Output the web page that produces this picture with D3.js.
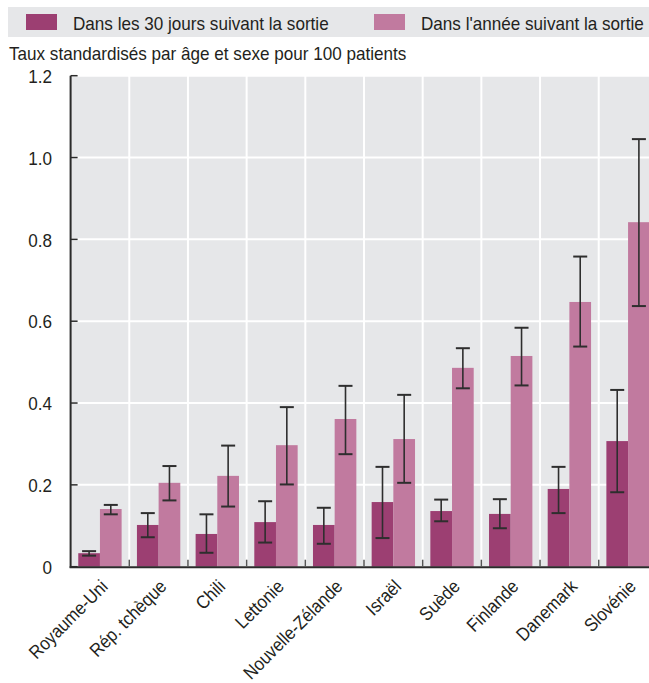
<!DOCTYPE html>
<html>
<head>
<meta charset="utf-8">
<script src="https://cdn.jsdelivr.net/npm/d3@7/dist/d3.min.js"></script>
<style>
  html, body { margin: 0; padding: 0; background: #fff; }
  svg { display: block; }
  text { font-family: "Liberation Sans", Arial, sans-serif; fill: #231f20; }
</style>
</head>
<body>
<svg id="chart" width="649" height="683"></svg>
<script>
// Readmission rates per 100 patients, age- and sex-standardised
const countries = ["Royaume-Uni", "Rép. tchèque", "Chili", "Lettonie", "Nouvelle-Zélande",
                   "Israël", "Suède", "Finlande", "Danemark", "Slovénie"];
const seriesNames = ["Dans les 30 jours suivant la sortie", "Dans l'année suivant la sortie"];

const within30 = [0.033, 0.102, 0.080, 0.109, 0.102, 0.158, 0.136, 0.129, 0.190, 0.307];
const within30Low = [0.027, 0.072, 0.034, 0.059, 0.056, 0.070, 0.111, 0.094, 0.131, 0.182];
const within30High = [0.038, 0.131, 0.128, 0.160, 0.144, 0.244, 0.164, 0.165, 0.244, 0.432];

const withinYear = [0.141, 0.205, 0.222, 0.297, 0.361, 0.312, 0.486, 0.515, 0.647, 0.842];
const withinYearLow = [0.128, 0.162, 0.147, 0.201, 0.275, 0.205, 0.436, 0.443, 0.538, 0.637];
const withinYearHigh = [0.151, 0.246, 0.296, 0.390, 0.442, 0.420, 0.534, 0.584, 0.758, 1.045];

const yTicks = [0, 0.2, 0.4, 0.6, 0.8, 1.0, 1.2];
const yTickLabels = ["0", "0.2", "0.4", "0.6", "0.8", "1.0", "1.2"];
const subtitle = "Taux standardisés par âge et sexe pour 100 patients";

const colors = ["#9c3f72", "#c17a9f"];
const panelBg = "#e6e7e9";
const axisColor = "#2b2b2b";
const narrow = 0.92;   // horizontal squeeze for a condensed look
const fs = 18.6;

const W = 649, H = 683;
const plot = { left: 70.6, right: 657.4, top: 75.7, bottom: 566.7 };

const svg = d3.select("#chart");

const x = d3.scaleBand().domain(countries).range([plot.left, plot.right]).paddingInner(0).paddingOuter(0);
const inner = d3.scaleBand().domain([0, 1]).range([0, x.bandwidth()]).paddingOuter(0.3532).paddingInner(0);
const y = d3.scaleLinear().domain([0, 1.2]).range([plot.bottom, plot.top]);

function label(parent, px, py, str, anchor) {
  return parent.append("text")
    .attr("transform", `translate(${px},${py}) scale(${narrow},1)`)
    .attr("text-anchor", anchor || "start")
    .attr("font-size", fs)
    .text(str);
}

// legend band
const legend = svg.append("g");
legend.append("rect").attr("x", 8).attr("y", 7).attr("width", W - 8).attr("height", 30).attr("fill", panelBg);
const legendX = [26, 374];
seriesNames.forEach((name, i) => {
  legend.append("rect").attr("x", legendX[i]).attr("y", 14).attr("width", 31).attr("height", 16).attr("fill", colors[i]);
  label(legend, legendX[i] + 47, 29.5, name);
});

label(svg, 9, 60, subtitle);

// plot background
svg.append("rect").attr("x", plot.left).attr("y", plot.top)
  .attr("width", W - plot.left).attr("height", plot.bottom - plot.top).attr("fill", panelBg);

// gridlines
svg.append("g").selectAll("line").data(yTicks.slice(1)).join("line")
  .attr("x1", plot.left).attr("x2", W).attr("y1", d => y(d)).attr("y2", d => y(d))
  .attr("stroke", "#fff").attr("stroke-width", 2);
const bounds = countries.slice(1).map(c => x(c));
svg.append("g").selectAll("line").data(bounds).join("line")
  .attr("x1", d => d).attr("x2", d => d).attr("y1", plot.top).attr("y2", plot.bottom)
  .attr("stroke", "#fff").attr("stroke-width", 2);

// bars
const series = [
  { vals: within30, lo: within30Low, hi: within30High },
  { vals: withinYear, lo: withinYearLow, hi: withinYearHigh }
];
series.forEach((s, si) => {
  const g = svg.append("g");
  g.selectAll("rect").data(countries).join("rect")
    .attr("x", c => x(c) + inner(si))
    .attr("width", inner.bandwidth())
    .attr("y", (c, i) => y(s.vals[i]))
    .attr("height", (c, i) => y(0) - y(s.vals[i]))
    .attr("fill", colors[si]);
});

// error bars
series.forEach((s, si) => {
  const g = svg.append("g").attr("stroke", "#2e2e2e").attr("fill", "none");
  countries.forEach((c, i) => {
    const cx = x(c) + inner(si) + inner.bandwidth() / 2;
    g.append("line").attr("x1", cx).attr("x2", cx).attr("y1", y(s.hi[i])).attr("y2", y(s.lo[i])).attr("stroke-width", 1.6);
    [s.hi[i], s.lo[i]].forEach(v => {
      g.append("line").attr("x1", cx - 7).attr("x2", cx + 7).attr("y1", y(v)).attr("y2", y(v)).attr("stroke-width", 2);
    });
  });
});

// y axis
const yAxis = d3.axisLeft(y).tickValues(yTicks).tickFormat((d, i) => yTickLabels[i]).tickSize(0).tickPadding(0);
const ya = svg.append("g").attr("transform", `translate(${plot.left},0)`).call(yAxis);
ya.select(".domain").remove();
ya.selectAll("text")
  .attr("font-size", fs).attr("font-family", null).attr("fill", "#231f20")
  .attr("x", null).attr("dy", "0.36em")
  .attr("transform", `translate(-18.5,0) scale(${narrow},1)`);
svg.append("g").selectAll("line").data(yTicks).join("line")
  .attr("x1", plot.left).attr("x2", plot.left + 7).attr("y1", d => y(d)).attr("y2", d => y(d))
  .attr("stroke", axisColor).attr("stroke-width", 1.5);
svg.append("line").attr("x1", plot.left).attr("x2", plot.left).attr("y1", plot.top).attr("y2", plot.bottom + 1)
  .attr("stroke", axisColor).attr("stroke-width", 2);

// x axis
svg.append("line").attr("x1", plot.left - 1).attr("x2", W).attr("y1", plot.bottom + 0.5).attr("y2", plot.bottom + 0.5)
  .attr("stroke", axisColor).attr("stroke-width", 2);
svg.append("g").selectAll("line").data(bounds).join("line")
  .attr("x1", d => d).attr("x2", d => d).attr("y1", plot.bottom).attr("y2", plot.bottom - 7)
  .attr("stroke", "#555").attr("stroke-width", 1.5);

const xAxis = d3.axisBottom(x).tickSize(0).tickPadding(0);
const xa = svg.append("g").attr("transform", `translate(0,${plot.bottom})`).call(xAxis);
xa.select(".domain").remove();
xa.selectAll("text")
  .attr("font-size", fs).attr("font-family", null).attr("fill", "#231f20")
  .attr("text-anchor", "end").attr("dy", null).attr("y", 0)
  .attr("transform", "translate(9,21) rotate(-45) scale(0.9,1)");
</script>
</body>
</html>
